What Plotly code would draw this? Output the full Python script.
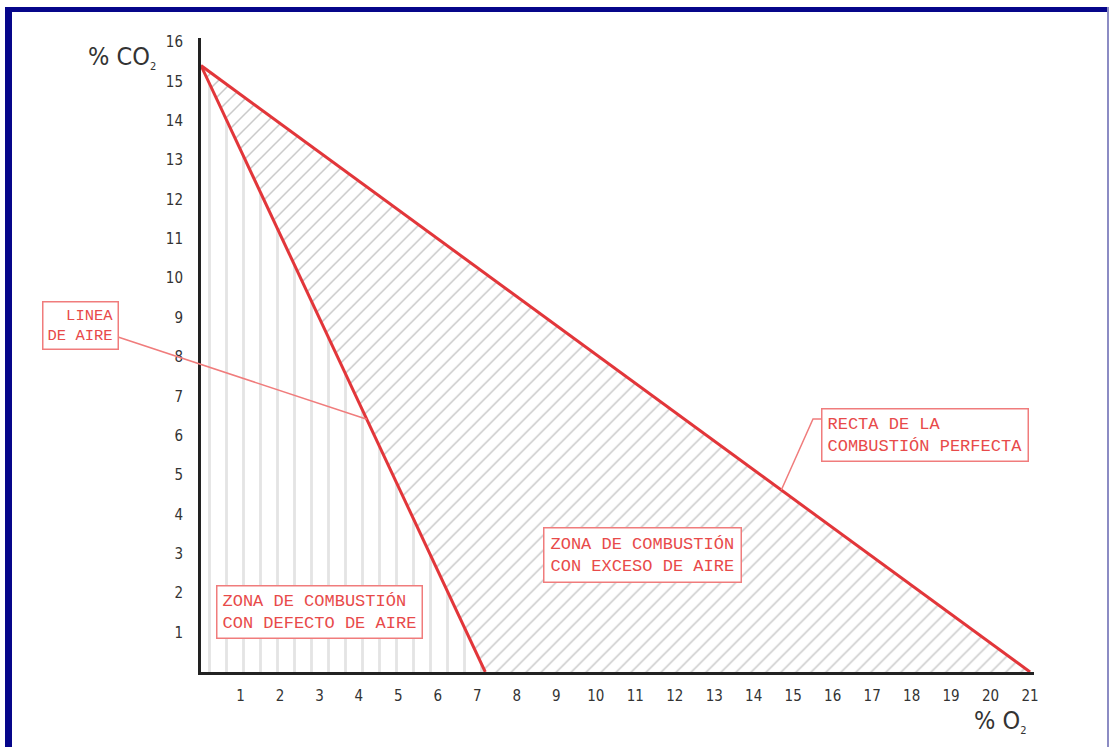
import plotly.graph_objects as go

# ---------------- data ----------------
o2_ticks = list(range(1, 22))          # % O2 tick labels
co2_ticks = list(range(1, 17))         # % CO2 tick labels

air_line_o2 = [0.0, 7.2]                # "línea de aire"
air_line_co2 = [15.4, 0.0]
perfect_o2 = [0.0, 21.0]                # "recta de la combustión perfecta"
perfect_co2 = [15.4, 0.0]

# ---------------- layout geometry ----------------
W, H = 1110, 747
L, R, T, B = 201, 76, 38, 75
XR = [0, 21.1]
YR = [0, 16.1]
PW, PH = W - L - R, H - T - B


def px2paper(px, py):
    return (px - L) / PW, (H - B - py) / PH


def d2paper(x, y):
    return (x - XR[0]) / (XR[1] - XR[0]), (y - YR[0]) / (YR[1] - YR[0])


def on_line(xs, ys, x):
    return ys[0] + (ys[1] - ys[0]) * (x - xs[0]) / (xs[1] - xs[0])


RED = "#e2363a"
LRED = "#f07c7c"
TXT_RED = "#e84a4a"
FONT = "DejaVu Sans Condensed, Liberation Sans Narrow, sans-serif"
BOXFONT = "Liberation Mono, DejaVu Sans Mono, monospace"

fig = go.Figure()

# zone with air defect (vertical hatching)
fig.add_trace(go.Scatter(
    x=[air_line_o2[0], air_line_o2[0], air_line_o2[1]],
    y=[0, air_line_co2[0], air_line_co2[1]],
    mode="none", fill="toself", fillcolor="rgba(0,0,0,0)",
    fillpattern=dict(shape="|", size=17, solidity=0.17,
                     fgcolor="#c9c9c9", bgcolor="white"),
    hoverinfo="skip", showlegend=False))

# zone with air excess (diagonal hatching)
fig.add_trace(go.Scatter(
    x=[perfect_o2[0], air_line_o2[1], perfect_o2[1]],
    y=[perfect_co2[0], air_line_co2[1], perfect_co2[1]],
    mode="none", fill="toself", fillcolor="rgba(0,0,0,0)",
    fillpattern=dict(shape="/", size=10.6, solidity=0.14,
                     fgcolor="#929292", bgcolor="white"),
    hoverinfo="skip", showlegend=False))

# red lines
fig.add_trace(go.Scatter(x=perfect_o2, y=perfect_co2, mode="lines",
                         line=dict(color=RED, width=3), hoverinfo="skip",
                         showlegend=False, cliponaxis=False))
fig.add_trace(go.Scatter(x=air_line_o2, y=air_line_co2, mode="lines",
                         line=dict(color=RED, width=3), hoverinfo="skip",
                         showlegend=False, cliponaxis=False))

annotations = []


def box(text, cx, cy, pad, align, size=17):
    px, py = px2paper(cx, cy)
    annotations.append(dict(
        text=text, x=px, y=py, xref="paper", yref="paper",
        xanchor="center", yanchor="middle", showarrow=False,
        align=align, borderpad=pad,
        bordercolor=LRED, borderwidth=1.5, bgcolor="white",
        font=dict(family=BOXFONT, size=size, color=TXT_RED)))


box("LINEA<br>DE AIRE", 80, 325, 4, "right", size=15.5)
box("ZONA DE COMBUSTIÓN<br>CON DEFECTO DE AIRE", 319.5, 611.5, 5, "left")
box("ZONA DE COMBUSTIÓN<br>CON EXCESO DE AIRE", 642.5, 554.5, 6, "left")
box("RECTA DE LA<br>COMBUSTIÓN PERFECTA", 925, 434.5, 5, "left")

# axis titles
SUB = '<sub><span style="font-size:11px">2</span></sub>'
ax1 = px2paper(122, 57)
annotations.append(dict(text="% CO" + SUB, x=ax1[0], y=ax1[1],
                        xref="paper", yref="paper", showarrow=False,
                        xanchor="center", yanchor="middle",
                        font=dict(family=FONT, size=25, color="#333333")))
ax2 = px2paper(1000, 721)
annotations.append(dict(text="% O" + SUB, x=ax2[0], y=ax2[1],
                        xref="paper", yref="paper", showarrow=False,
                        xanchor="center", yanchor="middle",
                        font=dict(family=FONT, size=25, color="#333333")))

shapes = []

# leader: LINEA DE AIRE -> air line
lx = 4.2
ly = on_line(air_line_o2, air_line_co2, lx)
s0 = px2paper(118, 337)
e0 = d2paper(lx, ly)
shapes.append(dict(type="line", xref="paper", yref="paper",
                   x0=s0[0], y0=s0[1], x1=e0[0], y1=e0[1],
                   line=dict(color=LRED, width=1.5), layer="above"))

# leader: RECTA DE LA COMBUSTIÓN PERFECTA -> perfect line
rx = 14.7
ry = on_line(perfect_o2, perfect_co2, rx)
a = px2paper(822, 419)
k = px2paper(813, 419)
e1 = d2paper(rx, ry)
shapes.append(dict(type="path", xref="paper", yref="paper",
                   path=f"M{a[0]},{a[1]} L{k[0]},{k[1]} L{e1[0]},{e1[1]}",
                   line=dict(color=LRED, width=1.5), layer="above"))

# dark frame around the figure
NAVY = "#06068a"
for (x0, y0, x1, y1, c) in [(5, 7, 1109, 12, NAVY), (5, 7, 12, 747, NAVY),
                            (1107, 7, 1109, 747, "#8c8cc4")]:
    p0 = px2paper(x0, y0)
    p1 = px2paper(x1, y1)
    shapes.append(dict(type="rect", xref="paper", yref="paper",
                       x0=p0[0], y0=p0[1], x1=p1[0], y1=p1[1],
                       fillcolor=c, line=dict(width=0), layer="above"))

fig.update_layout(
    width=W, height=H,
    margin=dict(l=L, r=R, t=T, b=B, pad=0),
    paper_bgcolor="white", plot_bgcolor="white",
    showlegend=False, hovermode=False,
    annotations=annotations, shapes=shapes,
    xaxis=dict(range=XR, tickvals=o2_ticks, ticktext=[str(v) for v in o2_ticks],
               showgrid=False, zeroline=False, showline=True,
               linecolor="#222222", linewidth=3, ticks="",
               ticklabelstandoff=8,
               tickfont=dict(family=FONT, size=15, color="#333333")),
    yaxis=dict(range=YR, tickvals=co2_ticks, ticktext=[str(v) for v in co2_ticks],
               showgrid=False, zeroline=False, showline=True,
               linecolor="#222222", linewidth=3, ticks="",
               ticklabelstandoff=12,
               tickfont=dict(family=FONT, size=15, color="#333333")),
)

fig.write_html("out.html", config={"displayModeBar": False},
               post_script="document.body.style.margin='0';document.body.style.overflow='hidden';")
